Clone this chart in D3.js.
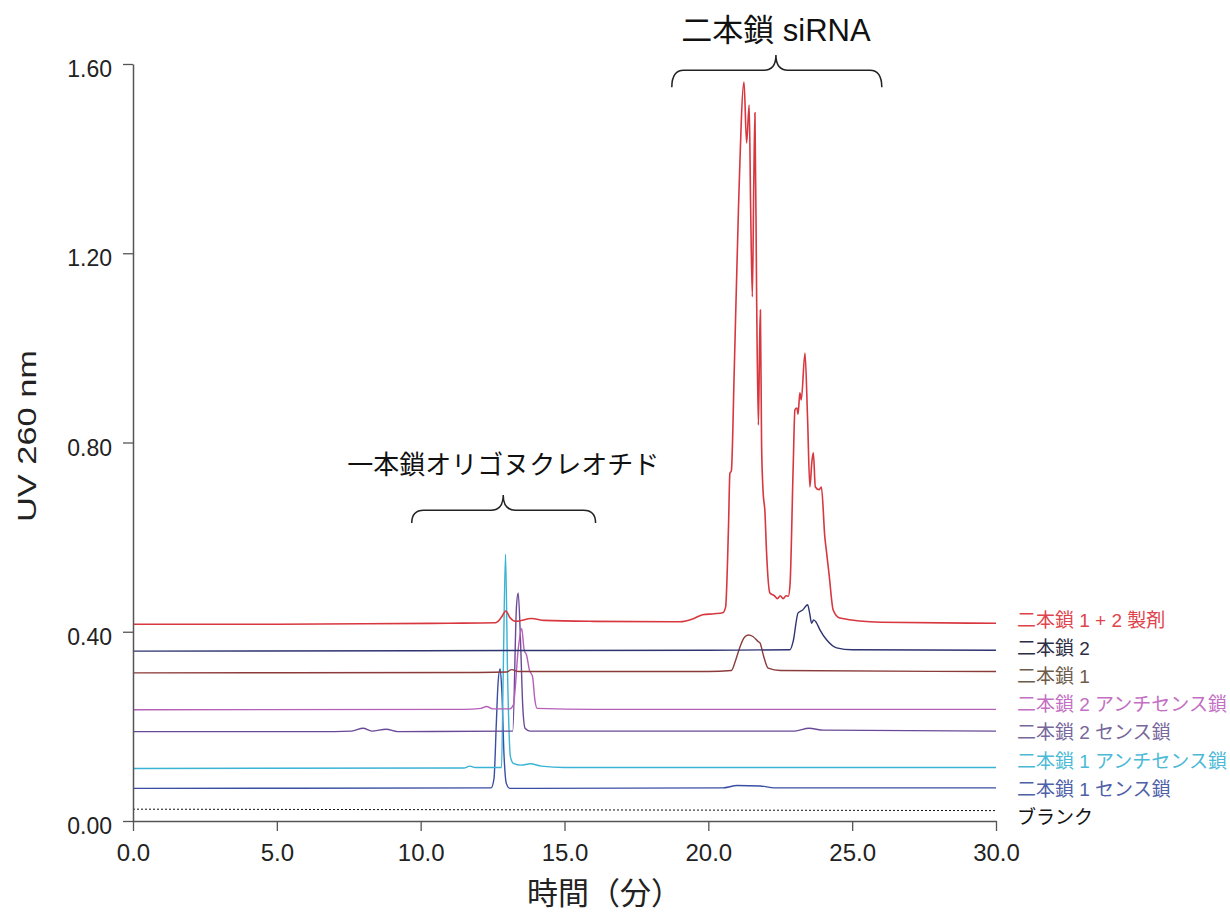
<!DOCTYPE html>
<html><head><meta charset="utf-8">
<script src="https://cdn.jsdelivr.net/npm/d3@7"></script>
<style>
html,body{margin:0;padding:0;background:#fff;}
svg{display:block;}
</style></head>
<body><svg id="chart" width="1230" height="924"></svg>
<script>
// ---- data (time [min], absorbance) ----
const xTicks = [0, 5, 10, 15, 20, 25, 30];
const yTicks = [0, 0.4, 0.8, 1.2, 1.6];
const xTitle = "時間（分）";
const yTitle = "UV 260 nm";

const seriesNames = [
  "二本鎖 1 + 2 製剤", "二本鎖 2", "二本鎖 1", "二本鎖 2 アンチセンス鎖",
  "二本鎖 2 センス鎖", "二本鎖 1 アンチセンス鎖", "二本鎖 1 センス鎖", "ブランク"
];
const lineColors = ["#d7373f", "#2e3470", "#8c3b3b", "#b45fb8", "#6a4a98", "#3ab3d4", "#3a4fa3", "#111111"];
const textColors = ["#df444c", "#2d2d45", "#6e5c4a", "#c36fc3", "#77679b", "#4cbad6", "#4d60a8", "#111111"];

const duplex12 = [[0,0.416],[5,0.416],[8,0.417],[11,0.418],[12.6,0.419],[12.8,0.43],[12.96,0.444],[13.1,0.43],[13.3,0.422],[13.85,0.428],[14.3,0.424],[16,0.422],[19,0.421],[19.5,0.428],[19.8,0.436],[20.2,0.438],[20.5,0.44],[20.6,0.452],[20.7,0.62],[20.75,0.735],[20.8,0.74],[20.9,0.95],[21.05,1.3],[21.24,1.562],[21.33,1.433],[21.42,1.513],[21.47,1.3],[21.53,1.108],[21.58,1.35],[21.62,1.497],[21.68,1.1],[21.74,0.837],[21.78,1.0],[21.81,1.08],[21.85,0.8],[21.9,0.7],[21.97,0.651],[22.02,0.573],[22.14,0.482],[22.3,0.476],[22.4,0.47],[22.5,0.476],[22.6,0.47],[22.7,0.476],[22.78,0.475],[22.84,0.5],[22.95,0.75],[23.01,0.869],[23.08,0.873],[23.12,0.86],[23.18,0.905],[23.23,0.89],[23.36,0.989],[23.45,0.85],[23.53,0.706],[23.6,0.76],[23.65,0.778],[23.72,0.706],[23.85,0.70],[23.93,0.706],[24.05,0.6],[24.1,0.573],[24.2,0.52],[24.34,0.446],[24.57,0.429],[26,0.42],[30,0.418]];
const duplex2 = [[0,0.359],[10,0.36],[20,0.361],[22.84,0.362],[22.95,0.38],[23.12,0.44],[23.28,0.446],[23.45,0.457],[23.52,0.44],[23.59,0.418],[23.66,0.425],[23.75,0.42],[23.88,0.404],[24.11,0.383],[24.46,0.366],[25,0.362],[30,0.361]];
const duplex1 = [[0,0.313],[12,0.314],[13.0,0.315],[13.16,0.32],[13.4,0.316],[20,0.316],[20.8,0.318],[20.95,0.34],[21.1,0.368],[21.25,0.388],[21.39,0.393],[21.55,0.39],[21.74,0.379],[21.8,0.376],[21.91,0.351],[22.08,0.323],[22.5,0.318],[30,0.316]];
const duplex2AS = [[0,0.235],[11.5,0.236],[12.1,0.238],[12.29,0.242],[12.5,0.237],[13.1,0.237],[13.22,0.245],[13.4,0.368],[13.51,0.407],[13.6,0.361],[13.68,0.351],[13.78,0.319],[13.89,0.305],[13.97,0.256],[14.05,0.238],[16,0.236],[30,0.236]];
const duplex2S = [[0,0.189],[7,0.189],[7.6,0.19],[8,0.196],[8.3,0.19],[8.8,0.194],[9.2,0.189],[13.2,0.19],[13.33,0.453],[13.39,0.482],[13.47,0.383],[13.55,0.241],[13.63,0.196],[13.8,0.19],[23,0.19],[23.5,0.196],[24,0.192],[30,0.19]];
const duplex1AS = [[0,0.111],[11.5,0.112],[11.71,0.116],[11.9,0.113],[12.81,0.113],[12.87,0.313],[12.95,0.564],[13.02,0.313],[13.12,0.136],[13.22,0.122],[13.5,0.118],[13.8,0.121],[14.2,0.116],[15,0.113],[30,0.113]];
const duplex1S = [[0,0.069],[12.45,0.07],[12.55,0.09],[12.63,0.206],[12.69,0.291],[12.76,0.322],[12.82,0.277],[12.9,0.136],[12.98,0.079],[13.1,0.069],[20.5,0.07],[21,0.075],[21.8,0.074],[22.3,0.07],[30,0.07]];
const blank = [[0,0.025],[30,0.022]];

// annotation braces (data units)
const annoSingle = {label: "一本鎖オリゴヌクレオチド", x0: 9.69, xc: 12.87, x1: 16.08, yb: 0.630, yh: 0.657, yt: 0.689, ty: 0.733, fs: 26};
const annoDuplex = {label: "二本鎖 siRNA", x0: 18.73, xc: 22.35, x1: 26.03, yb: 1.551, yh: 1.587, yt: 1.619, ty: 1.648, fs: 31};

const allSeries = [duplex12, duplex2, duplex1, duplex2AS, duplex2S, duplex1AS, duplex1S, blank];

// ---- drawing ----
const svg = d3.select("#chart");
const x = d3.scaleLinear().domain([0, 30]).range([133, 996]);
const y = d3.scaleLinear().domain([0, 1.6]).range([821, 64]);
const numFont = "'Liberation Sans', Arial, sans-serif";
const cjkFont = "'Noto Sans CJK JP', 'Noto Sans', sans-serif";
const mixFont = "'Liberation Sans', 'Noto Sans CJK JP', sans-serif";

const line = d3.line().x(d => x(d[0])).y(d => y(d[1])).curve(d3.curveMonotoneX);

allSeries.slice().reverse().forEach((s, ri) => {
  const i = allSeries.length - 1 - ri;
  svg.append("path").datum(s)
    .attr("d", line)
    .attr("fill", "none")
    .attr("stroke", lineColors[i])
    .attr("stroke-width", i === 7 ? 1 : (i === 0 ? 1.6 : 1.4))
    .attr("stroke-dasharray", i === 7 ? "2,2" : null);
});

// axes
const gx = svg.append("g").attr("transform", `translate(0,${y(0)})`)
  .call(d3.axisBottom(x).tickValues(xTicks).tickFormat(d3.format(".1f")).tickSize(10).tickSizeOuter(0));
const gy = svg.append("g").attr("transform", `translate(${x(0)},0)`)
  .call(d3.axisLeft(y).tickValues(yTicks).tickFormat(d3.format(".2f")).tickSize(10).tickSizeOuter(0));
[gx, gy].forEach(g => {
  g.select(".domain").attr("stroke", "#555").attr("stroke-width", 1.5);
  g.selectAll(".tick line").attr("stroke", "#555").attr("stroke-width", 1.3);
});
gx.selectAll(".tick text").attr("font-family", numFont).attr("font-size", 24).attr("fill", "#222").attr("dy", null).attr("y", 40);
gy.selectAll(".tick text").attr("font-family", numFont).attr("font-size", 23).attr("fill", "#222").attr("x", -21).attr("dy", "0.55em");

// axis titles
svg.append("text").attr("x", 527).attr("y", 904).attr("font-family", cjkFont)
  .attr("font-size", 31).attr("fill", "#222").text(xTitle);
svg.append("text").attr("transform", `translate(36,436) rotate(-90)`).attr("text-anchor", "middle")
  .attr("font-family", numFont).attr("font-size", 26).attr("fill", "#222")
  .attr("textLength", 172).attr("lengthAdjust", "spacingAndGlyphs").text(yTitle);

// legend labels
svg.append("g").selectAll("text").data(seriesNames).join("text")
  .attr("x", 1017).attr("y", (d, i) => 627 + i * 28.1)
  .attr("font-family", mixFont).attr("font-size", 19)
  .attr("fill", (d, i) => textColors[i]).text(d => d);

// braces
function brace(a) {
  const r = 12;
  const X0 = x(a.x0), XC = x(a.xc), X1 = x(a.x1);
  const YB = y(a.yb), YH = y(a.yh), YT = y(a.yt);
  return `M${X0},${YB} Q${X0},${YH} ${X0 + r},${YH} L${XC - r},${YH} Q${XC},${YH} ${XC},${YT} Q${XC},${YH} ${XC + r},${YH} L${X1 - r},${YH} Q${X1},${YH} ${X1},${YB}`;
}
[annoSingle, annoDuplex].forEach(a => {
  svg.append("path").attr("d", brace(a)).attr("fill", "none").attr("stroke", "#222").attr("stroke-width", 1.5);
  svg.append("text").attr("x", x(a.xc)).attr("y", y(a.ty)).attr("text-anchor", "middle")
    .attr("font-family", mixFont).attr("font-size", a.fs).attr("fill", "#111").text(a.label);
});
</script></body></html>
